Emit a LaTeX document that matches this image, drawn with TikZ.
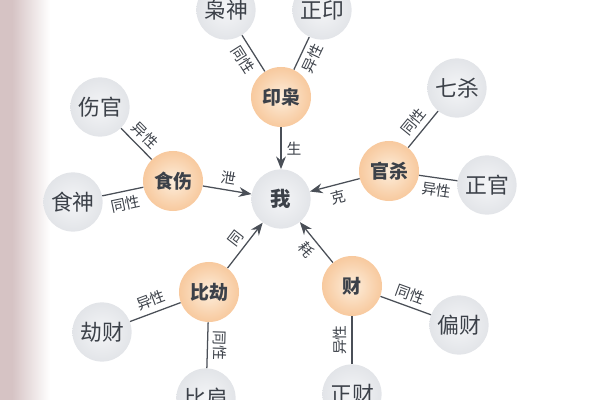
\documentclass[tikz,border=0pt]{standalone}
\usepackage{fontspec}
\newfontfamily\cjk{Noto Sans CJK SC}
\usetikzlibrary{arrows.meta}
\definecolor{inkgray}{HTML}{3C4149}
\definecolor{linegray}{HTML}{4A4F57}
\definecolor{peachin}{HTML}{FDEEDC}
\definecolor{peachout}{HTML}{F4B277}
\definecolor{pearlin}{HTML}{F4F5F7}
\definecolor{pearlout}{HTML}{B9BEC6}
\definecolor{gutter}{HTML}{D6C3C4}
\pgfdeclareradialshading{peachball}{\pgfpoint{0bp}{0bp}}{color(0bp)=(peachin); color(18bp)=(peachin!55!peachout); color(42bp)=(peachout); color(50bp)=(peachout!85!white)}
\pgfdeclareradialshading{pearlball}{\pgfpoint{0bp}{0bp}}{color(0bp)=(pearlin); color(25bp)=(pearlin!70!pearlout); color(50bp)=(pearlout)}

\begin{document}
\begin{tikzpicture}[x=0.025cm, y=-0.025cm,
        % estilos de los nodos
        core/.style={
            circle,
            minimum size=1.5cm,
            inner sep=0pt,
            shading=peachball,
            text=inkgray,
            font=\cjk\bfseries\fontsize{13.5}{13.5}\selectfont
        },
        leaf/.style={
            circle,
            minimum size=1.48cm,
            inner sep=0pt,
            shading=pearlball,
            text=inkgray,
            font=\cjk\fontsize{15.5}{15.5}\selectfont
        },
        hub/.style={leaf, font=\cjk\bfseries\fontsize{14.5}{14.5}\selectfont},
        link/.style={draw=linegray, line width=0.9pt},
        flow/.style={link, -{Stealth[length=9pt, width=7pt]}},
        lbl/.style={text=inkgray, inner sep=3.5pt, font=\cjk\fontsize{10.5}{10.5}\selectfont},
        slbl/.style={lbl, sloped}
    ]

        % page gutter
        \fill[gutter] (0,0) rectangle (12,400);
        \shade[left color=gutter, right color=white] (12,0) rectangle (50,400);
        \useasboundingbox (0,0) rectangle (600,400);

        % Nodes
        \node[hub]  (wo)      at (281,199) {我};
        \node[core] (yinxiao) at (281,97)  {印枭};
        \node[core] (shishang) at (173,181) {食伤};
        \node[core] (guansha) at (389,171) {官杀};
        \node[core] (bijie)   at (209,292) {比劫};
        \node[core] (cai)     at (352,286) {财};

        \node[leaf] (xiaoshen) at (226,10)  {枭神};
        \node[leaf] (zhengyin) at (322,10)  {正印};
        \node[leaf] (shangguan) at (100,107) {伤官};
        \node[leaf] (shishen)  at (73,202)  {食神};
        \node[leaf] (qisha)    at (457,88)  {七杀};
        \node[leaf] (zhengguan) at (487,185) {正官};
        \node[leaf] (jiecai)   at (102,332) {劫财};
        \node[leaf] (bijian)   at (206,398) {比肩};
        \node[leaf] (piancai)  at (459,325) {偏财};
        \node[leaf] (zhengcai) at (352,394) {正财};

        % Arrows
        \draw[flow] (yinxiao) -- node[lbl, right] {生} (wo);
        \draw[flow] (shishang) -- node[slbl, above] {泄} (wo);
        \draw[flow] (guansha) -- node[slbl, below] {克} (wo);
        \draw[flow] (bijie) -- node[slbl, above] {同} (wo);
        \draw[flow] (cai) -- node[slbl, below] {耗} (wo);

        % Lines
        \draw[link] (xiaoshen) -- node[slbl, below] {同性} (yinxiao);
        \draw[link] (yinxiao) -- node[slbl, below] {异性} (zhengyin);
        \draw[link] (shangguan) -- node[slbl, above] {异性} (shishang);
        \draw[link] (shishen) -- node[slbl, below] {同性} (shishang);
        \draw[link] (guansha) -- node[slbl, above] {同性} (qisha);
        \draw[link] (guansha) -- node[slbl, below] {异性} (zhengguan);
        \draw[link] (jiecai) -- node[slbl, above] {异性} (bijie);
        \draw[link] (bijie) -- node[slbl, allow upside down, above] {同性} (bijian);
        \draw[link] (cai) -- node[slbl, above] {同性} (piancai);
        \draw[link] (zhengcai) -- node[slbl, above] {异性} (cai);

    \end{tikzpicture}
\end{document}
